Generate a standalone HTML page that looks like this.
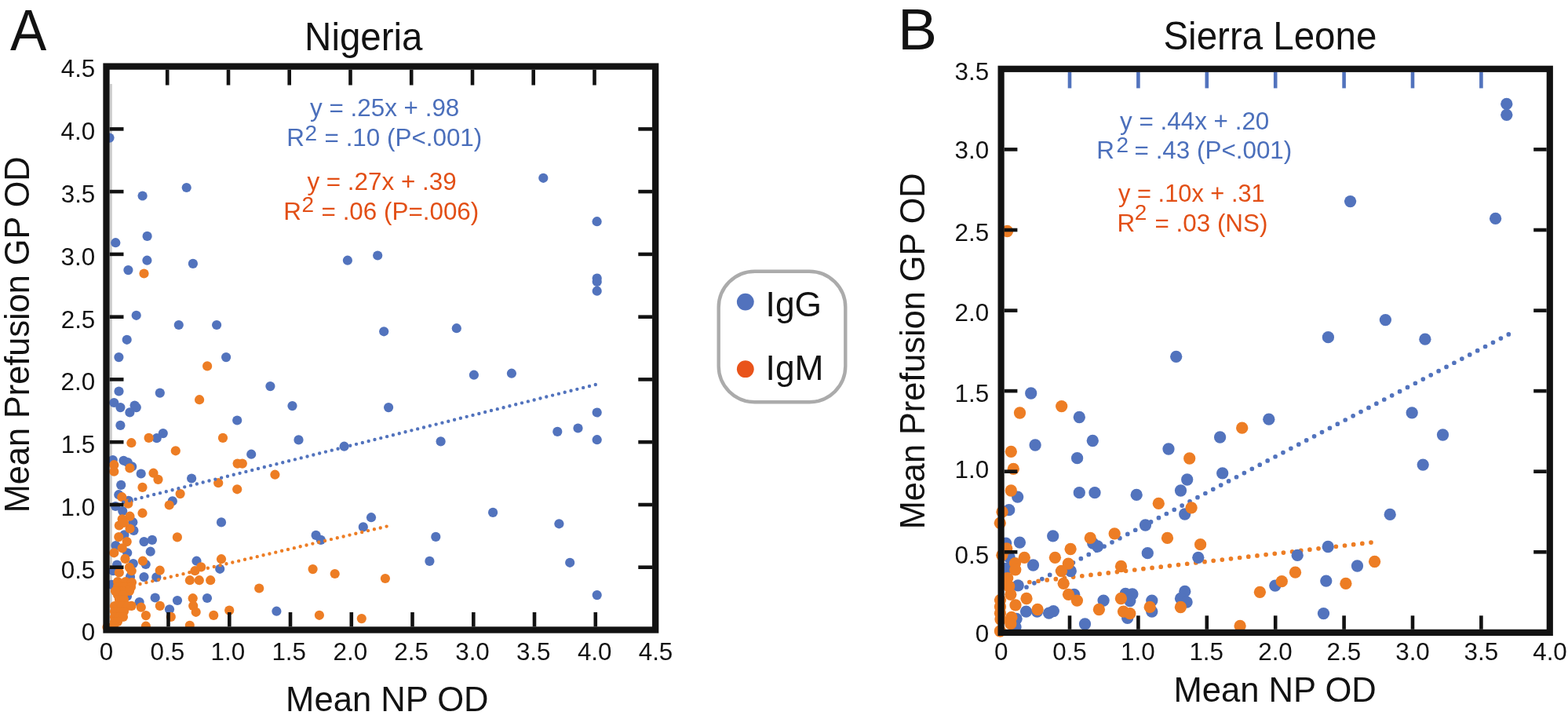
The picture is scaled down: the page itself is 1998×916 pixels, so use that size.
<!DOCTYPE html>
<html><head><meta charset="utf-8"><title>Figure</title>
<style>html,body{margin:0;padding:0;background:#fff;}svg{display:block;}</style></head>
<body><svg width="1998" height="916" viewBox="0 0 1998 916" font-family="Liberation Sans, Arial, sans-serif">
<rect width="1998" height="916" fill="#fff"/>
<rect x="140" y="107" width="2.8" height="692" fill="#cbcbcb"/>
<circle cx="139.5" cy="175.6" r="6.1" fill="#5273bd"/>
<circle cx="181.6" cy="249.5" r="6.1" fill="#5273bd"/>
<circle cx="237.7" cy="239.0" r="6.1" fill="#5273bd"/>
<circle cx="187.6" cy="300.9" r="6.1" fill="#5273bd"/>
<circle cx="147.3" cy="309.2" r="6.1" fill="#5273bd"/>
<circle cx="692.3" cy="226.8" r="6.1" fill="#5273bd"/>
<circle cx="760.6" cy="282.2" r="6.1" fill="#5273bd"/>
<circle cx="187.4" cy="331.7" r="6.1" fill="#5273bd"/>
<circle cx="245.9" cy="335.9" r="6.1" fill="#5273bd"/>
<circle cx="163.4" cy="344.1" r="6.1" fill="#5273bd"/>
<circle cx="173.7" cy="401.8" r="6.1" fill="#5273bd"/>
<circle cx="227.8" cy="414.0" r="6.1" fill="#5273bd"/>
<circle cx="276.1" cy="414.0" r="6.1" fill="#5273bd"/>
<circle cx="161.7" cy="432.8" r="6.1" fill="#5273bd"/>
<circle cx="151.4" cy="455.1" r="6.1" fill="#5273bd"/>
<circle cx="288.1" cy="455.1" r="6.1" fill="#5273bd"/>
<circle cx="442.9" cy="331.7" r="6.1" fill="#5273bd"/>
<circle cx="481.2" cy="325.5" r="6.1" fill="#5273bd"/>
<circle cx="489.2" cy="422.3" r="6.1" fill="#5273bd"/>
<circle cx="344.4" cy="492.1" r="6.1" fill="#5273bd"/>
<circle cx="372.5" cy="517.1" r="6.1" fill="#5273bd"/>
<circle cx="495.1" cy="519.1" r="6.1" fill="#5273bd"/>
<circle cx="760.7" cy="354.5" r="6.1" fill="#5273bd"/>
<circle cx="760.7" cy="358.9" r="6.1" fill="#5273bd"/>
<circle cx="760.7" cy="370.7" r="6.1" fill="#5273bd"/>
<circle cx="581.8" cy="418.2" r="6.1" fill="#5273bd"/>
<circle cx="603.9" cy="477.7" r="6.1" fill="#5273bd"/>
<circle cx="651.9" cy="475.7" r="6.1" fill="#5273bd"/>
<circle cx="760.7" cy="525.5" r="6.1" fill="#5273bd"/>
<circle cx="710.3" cy="549.9" r="6.1" fill="#5273bd"/>
<circle cx="736.5" cy="545.5" r="6.1" fill="#5273bd"/>
<circle cx="760.7" cy="560.2" r="6.1" fill="#5273bd"/>
<circle cx="380.5" cy="560.4" r="6.1" fill="#5273bd"/>
<circle cx="438.6" cy="568.7" r="6.1" fill="#5273bd"/>
<circle cx="561.6" cy="562.4" r="6.1" fill="#5273bd"/>
<circle cx="473.0" cy="659.2" r="6.1" fill="#5273bd"/>
<circle cx="462.8" cy="671.4" r="6.1" fill="#5273bd"/>
<circle cx="402.6" cy="681.9" r="6.1" fill="#5273bd"/>
<circle cx="408.8" cy="687.9" r="6.1" fill="#5273bd"/>
<circle cx="555.3" cy="683.9" r="6.1" fill="#5273bd"/>
<circle cx="547.4" cy="714.9" r="6.1" fill="#5273bd"/>
<circle cx="352.4" cy="778.7" r="6.1" fill="#5273bd"/>
<circle cx="628.1" cy="652.9" r="6.1" fill="#5273bd"/>
<circle cx="712.4" cy="667.3" r="6.1" fill="#5273bd"/>
<circle cx="726.2" cy="716.8" r="6.1" fill="#5273bd"/>
<circle cx="760.7" cy="758.1" r="6.1" fill="#5273bd"/>
<circle cx="151.5" cy="498.5" r="6.1" fill="#5273bd"/>
<circle cx="203.8" cy="500.6" r="6.1" fill="#5273bd"/>
<circle cx="145.3" cy="513.0" r="6.1" fill="#5273bd"/>
<circle cx="153.4" cy="519.1" r="6.1" fill="#5273bd"/>
<circle cx="171.6" cy="516.5" r="6.1" fill="#5273bd"/>
<circle cx="173.8" cy="519.1" r="6.1" fill="#5273bd"/>
<circle cx="165.4" cy="525.4" r="6.1" fill="#5273bd"/>
<circle cx="302.2" cy="535.5" r="6.1" fill="#5273bd"/>
<circle cx="153.4" cy="541.9" r="6.1" fill="#5273bd"/>
<circle cx="207.8" cy="552.1" r="6.1" fill="#5273bd"/>
<circle cx="199.7" cy="558.2" r="6.1" fill="#5273bd"/>
<circle cx="320.2" cy="578.7" r="6.1" fill="#5273bd"/>
<circle cx="143.8" cy="586.0" r="6.1" fill="#5273bd"/>
<circle cx="157.5" cy="586.8" r="6.1" fill="#5273bd"/>
<circle cx="162.8" cy="589.1" r="6.1" fill="#5273bd"/>
<circle cx="168.2" cy="594.4" r="6.1" fill="#5273bd"/>
<circle cx="179.7" cy="603.5" r="6.1" fill="#5273bd"/>
<circle cx="154.2" cy="617.9" r="6.1" fill="#5273bd"/>
<circle cx="244.1" cy="609.5" r="6.1" fill="#5273bd"/>
<circle cx="151.3" cy="630.2" r="6.1" fill="#5273bd"/>
<circle cx="163.8" cy="637.9" r="6.1" fill="#5273bd"/>
<circle cx="147.2" cy="645.0" r="6.1" fill="#5273bd"/>
<circle cx="156.2" cy="651.0" r="6.1" fill="#5273bd"/>
<circle cx="219.8" cy="638.4" r="6.1" fill="#5273bd"/>
<circle cx="169.3" cy="665.2" r="6.1" fill="#5273bd"/>
<circle cx="170.4" cy="675.9" r="6.1" fill="#5273bd"/>
<circle cx="158.4" cy="681.4" r="6.1" fill="#5273bd"/>
<circle cx="147.5" cy="695.0" r="6.1" fill="#5273bd"/>
<circle cx="162.2" cy="704.3" r="6.1" fill="#5273bd"/>
<circle cx="169.8" cy="718.0" r="6.1" fill="#5273bd"/>
<circle cx="149.1" cy="719.6" r="6.1" fill="#5273bd"/>
<circle cx="144.2" cy="727.2" r="6.1" fill="#5273bd"/>
<circle cx="166.0" cy="734.9" r="6.1" fill="#5273bd"/>
<circle cx="183.5" cy="690.1" r="6.1" fill="#5273bd"/>
<circle cx="193.9" cy="687.9" r="6.1" fill="#5273bd"/>
<circle cx="191.7" cy="702.7" r="6.1" fill="#5273bd"/>
<circle cx="185.7" cy="719.0" r="6.1" fill="#5273bd"/>
<circle cx="183.5" cy="735.1" r="6.1" fill="#5273bd"/>
<circle cx="199.3" cy="735.4" r="6.1" fill="#5273bd"/>
<circle cx="250.5" cy="714.7" r="6.1" fill="#5273bd"/>
<circle cx="197.7" cy="761.5" r="6.1" fill="#5273bd"/>
<circle cx="177.6" cy="767.0" r="6.1" fill="#5273bd"/>
<circle cx="226.0" cy="765.0" r="6.1" fill="#5273bd"/>
<circle cx="142.2" cy="744.8" r="6.1" fill="#5273bd"/>
<circle cx="162.0" cy="759.5" r="6.1" fill="#5273bd"/>
<circle cx="216.0" cy="776.3" r="6.1" fill="#5273bd"/>
<circle cx="282.0" cy="665.4" r="6.1" fill="#5273bd"/>
<circle cx="280.2" cy="724.8" r="6.1" fill="#5273bd"/>
<circle cx="264.0" cy="762.0" r="6.1" fill="#5273bd"/>
<circle cx="183.5" cy="348.5" r="6.1" fill="#ed7d24"/>
<circle cx="264.1" cy="466.4" r="6.1" fill="#ed7d24"/>
<circle cx="350.4" cy="604.7" r="6.1" fill="#ed7d24"/>
<circle cx="398.6" cy="725.1" r="6.1" fill="#ed7d24"/>
<circle cx="426.7" cy="731.0" r="6.1" fill="#ed7d24"/>
<circle cx="490.9" cy="737.0" r="6.1" fill="#ed7d24"/>
<circle cx="330.2" cy="749.5" r="6.1" fill="#ed7d24"/>
<circle cx="406.9" cy="783.8" r="6.1" fill="#ed7d24"/>
<circle cx="460.8" cy="788.1" r="6.1" fill="#ed7d24"/>
<circle cx="254.1" cy="509.2" r="6.1" fill="#ed7d24"/>
<circle cx="189.6" cy="557.9" r="6.1" fill="#ed7d24"/>
<circle cx="284.0" cy="557.9" r="6.1" fill="#ed7d24"/>
<circle cx="167.4" cy="564.2" r="6.1" fill="#ed7d24"/>
<circle cx="223.8" cy="574.3" r="6.1" fill="#ed7d24"/>
<circle cx="302.6" cy="590.6" r="6.1" fill="#ed7d24"/>
<circle cx="308.8" cy="590.6" r="6.1" fill="#ed7d24"/>
<circle cx="145.3" cy="592.2" r="6.1" fill="#ed7d24"/>
<circle cx="165.4" cy="596.4" r="6.1" fill="#ed7d24"/>
<circle cx="145.3" cy="600.7" r="6.1" fill="#ed7d24"/>
<circle cx="195.5" cy="602.7" r="6.1" fill="#ed7d24"/>
<circle cx="201.5" cy="610.9" r="6.1" fill="#ed7d24"/>
<circle cx="181.5" cy="620.9" r="6.1" fill="#ed7d24"/>
<circle cx="155.3" cy="633.2" r="6.1" fill="#ed7d24"/>
<circle cx="163.3" cy="641.7" r="6.1" fill="#ed7d24"/>
<circle cx="229.6" cy="629.1" r="6.1" fill="#ed7d24"/>
<circle cx="215.7" cy="643.5" r="6.1" fill="#ed7d24"/>
<circle cx="181.5" cy="653.7" r="6.1" fill="#ed7d24"/>
<circle cx="165.5" cy="657.7" r="6.1" fill="#ed7d24"/>
<circle cx="155.7" cy="661.3" r="6.1" fill="#ed7d24"/>
<circle cx="151.8" cy="669.5" r="6.1" fill="#ed7d24"/>
<circle cx="165.5" cy="673.5" r="6.1" fill="#ed7d24"/>
<circle cx="158.0" cy="666.0" r="6.1" fill="#ed7d24"/>
<circle cx="151.3" cy="684.1" r="6.1" fill="#ed7d24"/>
<circle cx="161.7" cy="690.1" r="6.1" fill="#ed7d24"/>
<circle cx="155.7" cy="698.3" r="6.1" fill="#ed7d24"/>
<circle cx="145.3" cy="704.3" r="6.1" fill="#ed7d24"/>
<circle cx="159.5" cy="711.9" r="6.1" fill="#ed7d24"/>
<circle cx="164.9" cy="722.9" r="6.1" fill="#ed7d24"/>
<circle cx="167.7" cy="727.2" r="6.1" fill="#ed7d24"/>
<circle cx="151.8" cy="729.4" r="6.1" fill="#ed7d24"/>
<circle cx="225.9" cy="684.4" r="6.1" fill="#ed7d24"/>
<circle cx="181.9" cy="714.7" r="6.1" fill="#ed7d24"/>
<circle cx="203.7" cy="726.7" r="6.1" fill="#ed7d24"/>
<circle cx="248.4" cy="727.2" r="6.1" fill="#ed7d24"/>
<circle cx="241.9" cy="739.2" r="6.1" fill="#ed7d24"/>
<circle cx="245.7" cy="762.2" r="6.1" fill="#ed7d24"/>
<circle cx="203.8" cy="771.9" r="6.1" fill="#ed7d24"/>
<circle cx="217.8" cy="785.9" r="6.1" fill="#ed7d24"/>
<circle cx="179.8" cy="773.7" r="6.1" fill="#ed7d24"/>
<circle cx="167.6" cy="771.9" r="6.1" fill="#ed7d24"/>
<circle cx="185.9" cy="784.1" r="6.1" fill="#ed7d24"/>
<circle cx="185.9" cy="797.7" r="6.1" fill="#ed7d24"/>
<circle cx="241.8" cy="796.8" r="6.1" fill="#ed7d24"/>
<circle cx="246.2" cy="771.9" r="6.1" fill="#ed7d24"/>
<circle cx="249.7" cy="779.8" r="6.1" fill="#ed7d24"/>
<circle cx="278.2" cy="615.2" r="6.1" fill="#ed7d24"/>
<circle cx="302.2" cy="623.3" r="6.1" fill="#ed7d24"/>
<circle cx="256.2" cy="722.4" r="6.1" fill="#ed7d24"/>
<circle cx="282.0" cy="712.2" r="6.1" fill="#ed7d24"/>
<circle cx="253.8" cy="739.2" r="6.1" fill="#ed7d24"/>
<circle cx="268.2" cy="739.2" r="6.1" fill="#ed7d24"/>
<circle cx="272.2" cy="783.9" r="6.1" fill="#ed7d24"/>
<circle cx="292.2" cy="777.6" r="6.1" fill="#ed7d24"/>
<circle cx="136.5" cy="799.0" r="6.1" fill="#ed7d24"/>
<circle cx="150.0" cy="741.0" r="6.1" fill="#ed7d24"/>
<circle cx="160.0" cy="741.0" r="6.1" fill="#ed7d24"/>
<circle cx="168.0" cy="742.0" r="6.1" fill="#ed7d24"/>
<circle cx="150.0" cy="747.0" r="6.1" fill="#ed7d24"/>
<circle cx="158.0" cy="747.0" r="6.1" fill="#ed7d24"/>
<circle cx="167.0" cy="748.0" r="6.1" fill="#ed7d24"/>
<circle cx="148.0" cy="753.0" r="6.1" fill="#ed7d24"/>
<circle cx="156.0" cy="753.0" r="6.1" fill="#ed7d24"/>
<circle cx="165.0" cy="753.0" r="6.1" fill="#ed7d24"/>
<circle cx="150.0" cy="758.0" r="6.1" fill="#ed7d24"/>
<circle cx="157.0" cy="758.0" r="6.1" fill="#ed7d24"/>
<circle cx="147.0" cy="753.0" r="6.1" fill="#ed7d24"/>
<circle cx="152.0" cy="764.0" r="6.1" fill="#ed7d24"/>
<circle cx="158.0" cy="764.0" r="6.1" fill="#ed7d24"/>
<circle cx="146.0" cy="772.0" r="6.1" fill="#ed7d24"/>
<circle cx="155.0" cy="772.0" r="6.1" fill="#ed7d24"/>
<circle cx="163.0" cy="772.0" r="6.1" fill="#ed7d24"/>
<circle cx="146.0" cy="779.0" r="6.1" fill="#ed7d24"/>
<circle cx="154.0" cy="779.0" r="6.1" fill="#ed7d24"/>
<circle cx="158.0" cy="779.0" r="6.1" fill="#ed7d24"/>
<circle cx="146.0" cy="786.0" r="6.1" fill="#ed7d24"/>
<circle cx="152.0" cy="786.0" r="6.1" fill="#ed7d24"/>
<circle cx="157.0" cy="786.0" r="6.1" fill="#ed7d24"/>
<circle cx="146.0" cy="792.0" r="6.1" fill="#ed7d24"/>
<circle cx="150.0" cy="792.0" r="6.1" fill="#ed7d24"/>
<circle cx="145.0" cy="797.0" r="6.1" fill="#ed7d24"/>
<line x1="157.1" y1="639.8" x2="759.29" y2="489.88" stroke="#5273bd" stroke-width="4.4" stroke-linecap="round" stroke-dasharray="0 8.0528"/>
<line x1="155" y1="749.5" x2="493.09" y2="670.49" stroke="#ed7d24" stroke-width="4.4" stroke-linecap="round" stroke-dasharray="0 8.0627"/>
<line x1="213.2" y1="88.8" x2="213.2" y2="108.5" stroke="#121212" stroke-width="4.6"/>
<line x1="214.5" y1="798.4" x2="214.5" y2="780.0" stroke="#121212" stroke-width="4.6"/>
<line x1="139.7" y1="722.7" x2="157.5" y2="722.7" stroke="#121212" stroke-width="4.6"/>
<line x1="831.1" y1="722.7" x2="813.3" y2="722.7" stroke="#121212" stroke-width="4.6"/>
<line x1="291.0" y1="88.8" x2="291.0" y2="108.5" stroke="#121212" stroke-width="4.6"/>
<line x1="292.3" y1="798.4" x2="292.3" y2="780.0" stroke="#121212" stroke-width="4.6"/>
<line x1="139.7" y1="643.0" x2="157.5" y2="643.0" stroke="#121212" stroke-width="4.6"/>
<line x1="831.1" y1="643.0" x2="813.3" y2="643.0" stroke="#121212" stroke-width="4.6"/>
<line x1="368.7" y1="88.8" x2="368.7" y2="108.5" stroke="#121212" stroke-width="4.6"/>
<line x1="370.0" y1="798.4" x2="370.0" y2="780.0" stroke="#121212" stroke-width="4.6"/>
<line x1="139.7" y1="563.2" x2="157.5" y2="563.2" stroke="#121212" stroke-width="4.6"/>
<line x1="831.1" y1="563.2" x2="813.3" y2="563.2" stroke="#121212" stroke-width="4.6"/>
<line x1="446.5" y1="88.8" x2="446.5" y2="108.5" stroke="#121212" stroke-width="4.6"/>
<line x1="447.8" y1="798.4" x2="447.8" y2="780.0" stroke="#121212" stroke-width="4.6"/>
<line x1="139.7" y1="483.4" x2="157.5" y2="483.4" stroke="#121212" stroke-width="4.6"/>
<line x1="831.1" y1="483.4" x2="813.3" y2="483.4" stroke="#121212" stroke-width="4.6"/>
<line x1="524.2" y1="88.8" x2="524.2" y2="108.5" stroke="#121212" stroke-width="4.6"/>
<line x1="525.5" y1="798.4" x2="525.5" y2="780.0" stroke="#121212" stroke-width="4.6"/>
<line x1="139.7" y1="403.7" x2="157.5" y2="403.7" stroke="#121212" stroke-width="4.6"/>
<line x1="831.1" y1="403.7" x2="813.3" y2="403.7" stroke="#121212" stroke-width="4.6"/>
<line x1="602.0" y1="88.8" x2="602.0" y2="108.5" stroke="#121212" stroke-width="4.6"/>
<line x1="603.3" y1="798.4" x2="603.3" y2="780.0" stroke="#121212" stroke-width="4.6"/>
<line x1="139.7" y1="323.9" x2="157.5" y2="323.9" stroke="#121212" stroke-width="4.6"/>
<line x1="831.1" y1="323.9" x2="813.3" y2="323.9" stroke="#121212" stroke-width="4.6"/>
<line x1="679.7" y1="88.8" x2="679.7" y2="108.5" stroke="#121212" stroke-width="4.6"/>
<line x1="681.0" y1="798.4" x2="681.0" y2="780.0" stroke="#121212" stroke-width="4.6"/>
<line x1="139.7" y1="244.1" x2="157.5" y2="244.1" stroke="#121212" stroke-width="4.6"/>
<line x1="831.1" y1="244.1" x2="813.3" y2="244.1" stroke="#121212" stroke-width="4.6"/>
<line x1="757.5" y1="88.8" x2="757.5" y2="108.5" stroke="#121212" stroke-width="4.6"/>
<line x1="758.8" y1="798.4" x2="758.8" y2="780.0" stroke="#121212" stroke-width="4.6"/>
<line x1="139.7" y1="164.4" x2="157.5" y2="164.4" stroke="#121212" stroke-width="4.6"/>
<line x1="831.1" y1="164.4" x2="813.3" y2="164.4" stroke="#121212" stroke-width="4.6"/>
<rect x="135.5" y="84.6" width="699.7" height="717.9" fill="none" stroke="#121212" stroke-width="8.3"/>
<text x="103.8" y="816.3" font-size="31.4" fill="#121212" text-anchor="start" >0</text>
<text x="126.8" y="841.0" font-size="31.4" fill="#121212" text-anchor="start" >0</text>
<text x="77.7" y="736.5" font-size="31.4" fill="#121212" text-anchor="start" >0.5</text>
<text x="191.5" y="841.0" font-size="31.4" fill="#121212" text-anchor="start" >0.5</text>
<text x="77.6" y="656.8" font-size="31.4" fill="#121212" text-anchor="start" >1.0</text>
<text x="268.6" y="841.0" font-size="31.4" fill="#121212" text-anchor="start" >1.0</text>
<text x="77.7" y="577.0" font-size="31.4" fill="#121212" text-anchor="start" >1.5</text>
<text x="346.4" y="841.0" font-size="31.4" fill="#121212" text-anchor="start" >1.5</text>
<text x="77.6" y="497.2" font-size="31.4" fill="#121212" text-anchor="start" >2.0</text>
<text x="424.5" y="841.0" font-size="31.4" fill="#121212" text-anchor="start" >2.0</text>
<text x="77.7" y="417.5" font-size="31.4" fill="#121212" text-anchor="start" >2.5</text>
<text x="502.3" y="841.0" font-size="31.4" fill="#121212" text-anchor="start" >2.5</text>
<text x="77.6" y="337.7" font-size="31.4" fill="#121212" text-anchor="start" >3.0</text>
<text x="580.2" y="841.0" font-size="31.4" fill="#121212" text-anchor="start" >3.0</text>
<text x="77.7" y="257.9" font-size="31.4" fill="#121212" text-anchor="start" >3.5</text>
<text x="657.9" y="841.0" font-size="31.4" fill="#121212" text-anchor="start" >3.5</text>
<text x="77.6" y="178.2" font-size="31.4" fill="#121212" text-anchor="start" >4.0</text>
<text x="735.9" y="841.0" font-size="31.4" fill="#121212" text-anchor="start" >4.0</text>
<text x="77.7" y="98.4" font-size="31.4" fill="#121212" text-anchor="start" >4.5</text>
<text x="813.7" y="841.0" font-size="31.4" fill="#121212" text-anchor="start" >4.5</text>
<line x1="1308" y1="748" x2="1922.74" y2="425.67" stroke="#5273bd" stroke-width="5.7" stroke-linecap="round" stroke-dasharray="0 11.1875"/>
<line x1="1278.4" y1="745.4" x2="1747.5" y2="691.04" stroke="#ed7d24" stroke-width="5.7" stroke-linecap="round" stroke-dasharray="0 11.2318"/>
<circle cx="1919.8" cy="132.4" r="7.65" fill="#5273bd"/>
<circle cx="1919.8" cy="146.3" r="7.65" fill="#5273bd"/>
<circle cx="1720.6" cy="256.6" r="7.65" fill="#5273bd"/>
<circle cx="1905.6" cy="278.4" r="7.65" fill="#5273bd"/>
<circle cx="1498.7" cy="454.3" r="7.65" fill="#5273bd"/>
<circle cx="1313.7" cy="501.0" r="7.65" fill="#5273bd"/>
<circle cx="1375.3" cy="531.5" r="7.65" fill="#5273bd"/>
<circle cx="1319.1" cy="567.0" r="7.65" fill="#5273bd"/>
<circle cx="1392.3" cy="561.5" r="7.65" fill="#5273bd"/>
<circle cx="1489.0" cy="572.0" r="7.65" fill="#5273bd"/>
<circle cx="1692.4" cy="429.7" r="7.65" fill="#5273bd"/>
<circle cx="1616.8" cy="534.2" r="7.65" fill="#5273bd"/>
<circle cx="1554.6" cy="557.0" r="7.65" fill="#5273bd"/>
<circle cx="1765.4" cy="407.6" r="7.65" fill="#5273bd"/>
<circle cx="1815.9" cy="432.2" r="7.65" fill="#5273bd"/>
<circle cx="1799.2" cy="525.8" r="7.65" fill="#5273bd"/>
<circle cx="1838.5" cy="554.0" r="7.65" fill="#5273bd"/>
<circle cx="1557.7" cy="602.8" r="7.65" fill="#5273bd"/>
<circle cx="1512.7" cy="611.0" r="7.65" fill="#5273bd"/>
<circle cx="1504.5" cy="625.0" r="7.65" fill="#5273bd"/>
<circle cx="1509.7" cy="655.0" r="7.65" fill="#5273bd"/>
<circle cx="1526.8" cy="710.3" r="7.65" fill="#5273bd"/>
<circle cx="1653.2" cy="707.4" r="7.65" fill="#5273bd"/>
<circle cx="1692.2" cy="696.5" r="7.65" fill="#5273bd"/>
<circle cx="1729.5" cy="721.0" r="7.65" fill="#5273bd"/>
<circle cx="1624.8" cy="746.1" r="7.65" fill="#5273bd"/>
<circle cx="1689.8" cy="740.1" r="7.65" fill="#5273bd"/>
<circle cx="1509.8" cy="753.5" r="7.65" fill="#5273bd"/>
<circle cx="1504.5" cy="762.5" r="7.65" fill="#5273bd"/>
<circle cx="1512.1" cy="767.1" r="7.65" fill="#5273bd"/>
<circle cx="1686.5" cy="781.6" r="7.65" fill="#5273bd"/>
<circle cx="1813.2" cy="592.1" r="7.65" fill="#5273bd"/>
<circle cx="1771.2" cy="655.4" r="7.65" fill="#5273bd"/>
<circle cx="1372.6" cy="583.7" r="7.65" fill="#5273bd"/>
<circle cx="1375.3" cy="627.7" r="7.65" fill="#5273bd"/>
<circle cx="1395.0" cy="627.7" r="7.65" fill="#5273bd"/>
<circle cx="1448.2" cy="630.4" r="7.65" fill="#5273bd"/>
<circle cx="1296.7" cy="633.1" r="7.65" fill="#5273bd"/>
<circle cx="1285.7" cy="649.7" r="7.65" fill="#5273bd"/>
<circle cx="1341.7" cy="682.8" r="7.65" fill="#5273bd"/>
<circle cx="1299.4" cy="691.1" r="7.65" fill="#5273bd"/>
<circle cx="1281.7" cy="692.1" r="7.65" fill="#5273bd"/>
<circle cx="1286.1" cy="709.8" r="7.65" fill="#5273bd"/>
<circle cx="1316.5" cy="720.0" r="7.65" fill="#5273bd"/>
<circle cx="1364.3" cy="727.5" r="7.65" fill="#5273bd"/>
<circle cx="1282.6" cy="724.1" r="7.65" fill="#5273bd"/>
<circle cx="1297.2" cy="745.9" r="7.65" fill="#5273bd"/>
<circle cx="1307.5" cy="779.1" r="7.65" fill="#5273bd"/>
<circle cx="1321.5" cy="779.1" r="7.65" fill="#5273bd"/>
<circle cx="1336.6" cy="781.2" r="7.65" fill="#5273bd"/>
<circle cx="1342.3" cy="778.6" r="7.65" fill="#5273bd"/>
<circle cx="1295.1" cy="788.5" r="7.65" fill="#5273bd"/>
<circle cx="1294.0" cy="798.8" r="7.65" fill="#5273bd"/>
<circle cx="1368.7" cy="757.3" r="7.65" fill="#5273bd"/>
<circle cx="1382.5" cy="795.0" r="7.65" fill="#5273bd"/>
<circle cx="1392.7" cy="692.1" r="7.65" fill="#5273bd"/>
<circle cx="1398.6" cy="696.0" r="7.65" fill="#5273bd"/>
<circle cx="1459.5" cy="669.0" r="7.65" fill="#5273bd"/>
<circle cx="1462.3" cy="704.7" r="7.65" fill="#5273bd"/>
<circle cx="1406.1" cy="765.1" r="7.65" fill="#5273bd"/>
<circle cx="1434.1" cy="756.3" r="7.65" fill="#5273bd"/>
<circle cx="1442.9" cy="756.8" r="7.65" fill="#5273bd"/>
<circle cx="1439.8" cy="765.6" r="7.65" fill="#5273bd"/>
<circle cx="1436.7" cy="787.4" r="7.65" fill="#5273bd"/>
<circle cx="1467.8" cy="765.1" r="7.65" fill="#5273bd"/>
<circle cx="1467.8" cy="779.1" r="7.65" fill="#5273bd"/>
<circle cx="1283.5" cy="294.5" r="7.65" fill="#ed7d24"/>
<circle cx="1299.5" cy="526.0" r="7.65" fill="#ed7d24"/>
<circle cx="1352.7" cy="517.6" r="7.65" fill="#ed7d24"/>
<circle cx="1582.7" cy="545.2" r="7.65" fill="#ed7d24"/>
<circle cx="1288.3" cy="575.3" r="7.65" fill="#ed7d24"/>
<circle cx="1291.3" cy="597.4" r="7.65" fill="#ed7d24"/>
<circle cx="1288.3" cy="625.0" r="7.65" fill="#ed7d24"/>
<circle cx="1277.0" cy="652.2" r="7.65" fill="#ed7d24"/>
<circle cx="1274.3" cy="666.3" r="7.65" fill="#ed7d24"/>
<circle cx="1282.7" cy="699.0" r="7.65" fill="#ed7d24"/>
<circle cx="1276.8" cy="707.3" r="7.65" fill="#ed7d24"/>
<circle cx="1305.3" cy="710.3" r="7.65" fill="#ed7d24"/>
<circle cx="1293.5" cy="717.6" r="7.65" fill="#ed7d24"/>
<circle cx="1293.8" cy="725.8" r="7.65" fill="#ed7d24"/>
<circle cx="1364.1" cy="699.5" r="7.65" fill="#ed7d24"/>
<circle cx="1344.4" cy="710.3" r="7.65" fill="#ed7d24"/>
<circle cx="1361.3" cy="718.1" r="7.65" fill="#ed7d24"/>
<circle cx="1352.5" cy="727.5" r="7.65" fill="#ed7d24"/>
<circle cx="1283.7" cy="736.6" r="7.65" fill="#ed7d24"/>
<circle cx="1285.7" cy="747.0" r="7.65" fill="#ed7d24"/>
<circle cx="1287.8" cy="757.3" r="7.65" fill="#ed7d24"/>
<circle cx="1308.0" cy="762.5" r="7.65" fill="#ed7d24"/>
<circle cx="1294.0" cy="770.8" r="7.65" fill="#ed7d24"/>
<circle cx="1322.1" cy="776.5" r="7.65" fill="#ed7d24"/>
<circle cx="1274.5" cy="764.6" r="7.65" fill="#ed7d24"/>
<circle cx="1274.5" cy="772.9" r="7.65" fill="#ed7d24"/>
<circle cx="1274.5" cy="781.2" r="7.65" fill="#ed7d24"/>
<circle cx="1275.0" cy="789.0" r="7.65" fill="#ed7d24"/>
<circle cx="1274.4" cy="804.0" r="7.65" fill="#ed7d24"/>
<circle cx="1288.9" cy="786.4" r="7.65" fill="#ed7d24"/>
<circle cx="1287.8" cy="794.7" r="7.65" fill="#ed7d24"/>
<circle cx="1355.2" cy="743.3" r="7.65" fill="#ed7d24"/>
<circle cx="1361.5" cy="757.3" r="7.65" fill="#ed7d24"/>
<circle cx="1372.4" cy="765.1" r="7.65" fill="#ed7d24"/>
<circle cx="1515.7" cy="584.0" r="7.65" fill="#ed7d24"/>
<circle cx="1518.1" cy="646.8" r="7.65" fill="#ed7d24"/>
<circle cx="1529.6" cy="693.7" r="7.65" fill="#ed7d24"/>
<circle cx="1650.5" cy="729.2" r="7.65" fill="#ed7d24"/>
<circle cx="1633.3" cy="740.7" r="7.65" fill="#ed7d24"/>
<circle cx="1605.4" cy="754.3" r="7.65" fill="#ed7d24"/>
<circle cx="1714.9" cy="743.4" r="7.65" fill="#ed7d24"/>
<circle cx="1504.4" cy="773.5" r="7.65" fill="#ed7d24"/>
<circle cx="1580.1" cy="797.5" r="7.65" fill="#ed7d24"/>
<circle cx="1751.6" cy="715.5" r="7.65" fill="#ed7d24"/>
<circle cx="1476.3" cy="641.4" r="7.65" fill="#ed7d24"/>
<circle cx="1389.3" cy="685.4" r="7.65" fill="#ed7d24"/>
<circle cx="1420.2" cy="679.8" r="7.65" fill="#ed7d24"/>
<circle cx="1487.5" cy="685.4" r="7.65" fill="#ed7d24"/>
<circle cx="1428.5" cy="721.5" r="7.65" fill="#ed7d24"/>
<circle cx="1400.4" cy="776.5" r="7.65" fill="#ed7d24"/>
<circle cx="1428.4" cy="762.5" r="7.65" fill="#ed7d24"/>
<circle cx="1431.5" cy="779.1" r="7.65" fill="#ed7d24"/>
<circle cx="1439.8" cy="781.7" r="7.65" fill="#ed7d24"/>
<circle cx="1465.2" cy="773.4" r="7.65" fill="#ed7d24"/>
<line x1="1363.0" y1="91.9" x2="1363.0" y2="112.4" stroke="#5273bd" stroke-width="4.6"/>
<line x1="1363.0" y1="801.8" x2="1363.0" y2="784.3" stroke="#121212" stroke-width="4.6"/>
<line x1="1450.4" y1="91.9" x2="1450.4" y2="112.4" stroke="#5273bd" stroke-width="4.6"/>
<line x1="1450.4" y1="801.8" x2="1450.4" y2="784.3" stroke="#121212" stroke-width="4.6"/>
<line x1="1537.8" y1="91.9" x2="1537.8" y2="112.4" stroke="#5273bd" stroke-width="4.6"/>
<line x1="1537.8" y1="801.8" x2="1537.8" y2="784.3" stroke="#121212" stroke-width="4.6"/>
<line x1="1625.2" y1="91.9" x2="1625.2" y2="112.4" stroke="#5273bd" stroke-width="4.6"/>
<line x1="1625.2" y1="801.8" x2="1625.2" y2="784.3" stroke="#121212" stroke-width="4.6"/>
<line x1="1712.6" y1="91.9" x2="1712.6" y2="112.4" stroke="#5273bd" stroke-width="4.6"/>
<line x1="1712.6" y1="801.8" x2="1712.6" y2="784.3" stroke="#121212" stroke-width="4.6"/>
<line x1="1800.0" y1="91.9" x2="1800.0" y2="112.4" stroke="#5273bd" stroke-width="4.6"/>
<line x1="1800.0" y1="801.8" x2="1800.0" y2="784.3" stroke="#121212" stroke-width="4.6"/>
<line x1="1887.4" y1="91.9" x2="1887.4" y2="112.4" stroke="#5273bd" stroke-width="4.6"/>
<line x1="1887.4" y1="801.8" x2="1887.4" y2="784.3" stroke="#121212" stroke-width="4.6"/>
<line x1="1279.7" y1="703.3" x2="1296.4" y2="703.3" stroke="#121212" stroke-width="4.6"/>
<line x1="1970.7" y1="703.3" x2="1954.2" y2="703.3" stroke="#121212" stroke-width="4.6"/>
<line x1="1279.7" y1="600.7" x2="1296.4" y2="600.7" stroke="#121212" stroke-width="4.6"/>
<line x1="1970.7" y1="600.7" x2="1954.2" y2="600.7" stroke="#121212" stroke-width="4.6"/>
<line x1="1279.7" y1="498.1" x2="1296.4" y2="498.1" stroke="#121212" stroke-width="4.6"/>
<line x1="1970.7" y1="498.1" x2="1954.2" y2="498.1" stroke="#121212" stroke-width="4.6"/>
<line x1="1279.7" y1="395.6" x2="1296.4" y2="395.6" stroke="#121212" stroke-width="4.6"/>
<line x1="1970.7" y1="395.6" x2="1954.2" y2="395.6" stroke="#121212" stroke-width="4.6"/>
<line x1="1279.7" y1="293.0" x2="1296.4" y2="293.0" stroke="#121212" stroke-width="4.6"/>
<line x1="1970.7" y1="293.0" x2="1954.2" y2="293.0" stroke="#121212" stroke-width="4.6"/>
<line x1="1279.7" y1="190.4" x2="1296.4" y2="190.4" stroke="#121212" stroke-width="4.6"/>
<line x1="1970.7" y1="190.4" x2="1954.2" y2="190.4" stroke="#121212" stroke-width="4.6"/>
<rect x="1275.6" y="87.8" width="699.2" height="718.1" fill="none" stroke="#121212" stroke-width="8.2"/>
<text x="1266.9" y="840.5" font-size="31.4" fill="#121212" text-anchor="start" >0</text>
<text x="1341.2" y="840.5" font-size="31.4" fill="#121212" text-anchor="start" >0.5</text>
<text x="1428.0" y="840.5" font-size="31.4" fill="#121212" text-anchor="start" >1.0</text>
<text x="1515.4" y="840.5" font-size="31.4" fill="#121212" text-anchor="start" >1.5</text>
<text x="1603.2" y="840.5" font-size="31.4" fill="#121212" text-anchor="start" >2.0</text>
<text x="1690.6" y="840.5" font-size="31.4" fill="#121212" text-anchor="start" >2.5</text>
<text x="1778.2" y="840.5" font-size="31.4" fill="#121212" text-anchor="start" >3.0</text>
<text x="1865.6" y="840.5" font-size="31.4" fill="#121212" text-anchor="start" >3.5</text>
<text x="1953.2" y="840.5" font-size="31.4" fill="#121212" text-anchor="start" >4.0</text>
<text x="1242.7" y="818.3" font-size="31.4" fill="#121212" text-anchor="start" >0</text>
<text x="1216.6" y="717.7" font-size="31.4" fill="#121212" text-anchor="start" >0.5</text>
<text x="1216.5" y="609.1" font-size="31.4" fill="#121212" text-anchor="start" >1.0</text>
<text x="1216.6" y="512.3" font-size="31.4" fill="#121212" text-anchor="start" >1.5</text>
<text x="1216.5" y="409.1" font-size="31.4" fill="#121212" text-anchor="start" >2.0</text>
<text x="1216.6" y="307.3" font-size="31.4" fill="#121212" text-anchor="start" >2.5</text>
<text x="1216.5" y="201.9" font-size="31.4" fill="#121212" text-anchor="start" >3.0</text>
<text x="1216.6" y="102.3" font-size="31.4" fill="#121212" text-anchor="start" >3.5</text>
<text transform="translate(13.2,63.7) scale(0.925,1)" x="-0.15" y="0" font-size="75" fill="#121212">A</text>
<text x="1144.0" y="63.4" font-size="75" fill="#121212" text-anchor="start" >B</text>
<text transform="translate(388.10,63.70) scale(1,1.05)" x="0" y="0" font-size="47.5" fill="#121212">Nigeria</text>
<text transform="translate(1482.44,63.40) scale(1,1.05)" x="0" y="0" font-size="47.5" fill="#121212">Sierra Leone</text>
<text x="364.1" y="906.2" font-size="43.6" fill="#121212" text-anchor="start" >Mean NP OD</text>
<text x="1495.4" y="893.6" font-size="43.6" fill="#121212" text-anchor="start" >Mean NP OD</text>
<text transform="translate(36.9,649.7) rotate(-90) scale(1,1.04)" x="-3.6" y="0" font-size="43.3" fill="#121212">Mean Prefusion GP OD</text>
<text transform="translate(1177.8,670.7) rotate(-90) scale(1,1.04)" x="-3.6" y="0" font-size="43.3" fill="#121212">Mean Prefusion GP OD</text>
<text x="395.1" y="148.0" font-size="31.4" fill="#4b6fbb" text-anchor="start" >y = .25x + .98</text>
<text x="365.3" y="186.0" font-size="31.4" fill="#4b6fbb" text-anchor="start" >R</text>
<text x="388.6" y="178.8" font-size="28" fill="#4b6fbb" text-anchor="start" >2</text>
<text x="413.6" y="186.0" font-size="31.4" fill="#4b6fbb" text-anchor="start" >= .10 (P&lt;.001)</text>
<text x="391.4" y="241.7" font-size="31.4" fill="#e24f16" text-anchor="start" >y = .27x + .39</text>
<text x="361.3" y="279.7" font-size="31.4" fill="#e24f16" text-anchor="start" >R</text>
<text x="384.6" y="269.9" font-size="28" fill="#e24f16" text-anchor="start" >2</text>
<text x="409.6" y="279.7" font-size="31.4" fill="#e24f16" text-anchor="start" >= .06 (P=.006)</text>
<text x="1427.1" y="165.4" font-size="31.4" fill="#4b6fbb" text-anchor="start" >y = .44x + .20</text>
<text x="1397.3" y="201.9" font-size="31.4" fill="#4b6fbb" text-anchor="start" >R</text>
<text x="1422.6" y="193.7" font-size="28" fill="#4b6fbb" text-anchor="start" >2</text>
<text x="1445.6" y="201.9" font-size="31.4" fill="#4b6fbb" text-anchor="start" >= .43 (P&lt;.001)</text>
<text x="1425.1" y="256.7" font-size="30.8" fill="#e24f16" text-anchor="start" >y = .10x + .31</text>
<text x="1423.5" y="294.8" font-size="31.4" fill="#e24f16" text-anchor="start" >R</text>
<text x="1445.8" y="279.8" font-size="28" fill="#e24f16" text-anchor="start" >2</text>
<text x="1471.5" y="294.8" font-size="31.4" fill="#e24f16" text-anchor="start" >= .03 (NS)</text>
<rect x="915.7" y="345.7" width="161.6" height="166.6" rx="46" ry="46" fill="none" stroke="#ababab" stroke-width="4.4"/>
<circle cx="949.8" cy="384.6" r="10.9" fill="#5272bd"/>
<circle cx="949.8" cy="470.2" r="10.9" fill="#e9531a"/>
<text x="975.6" y="403.1" font-size="44.3" fill="#121212" text-anchor="start" >IgG</text>
<text x="975.6" y="484.0" font-size="44.3" fill="#121212" text-anchor="start" >IgM</text>
</svg></body></html>
